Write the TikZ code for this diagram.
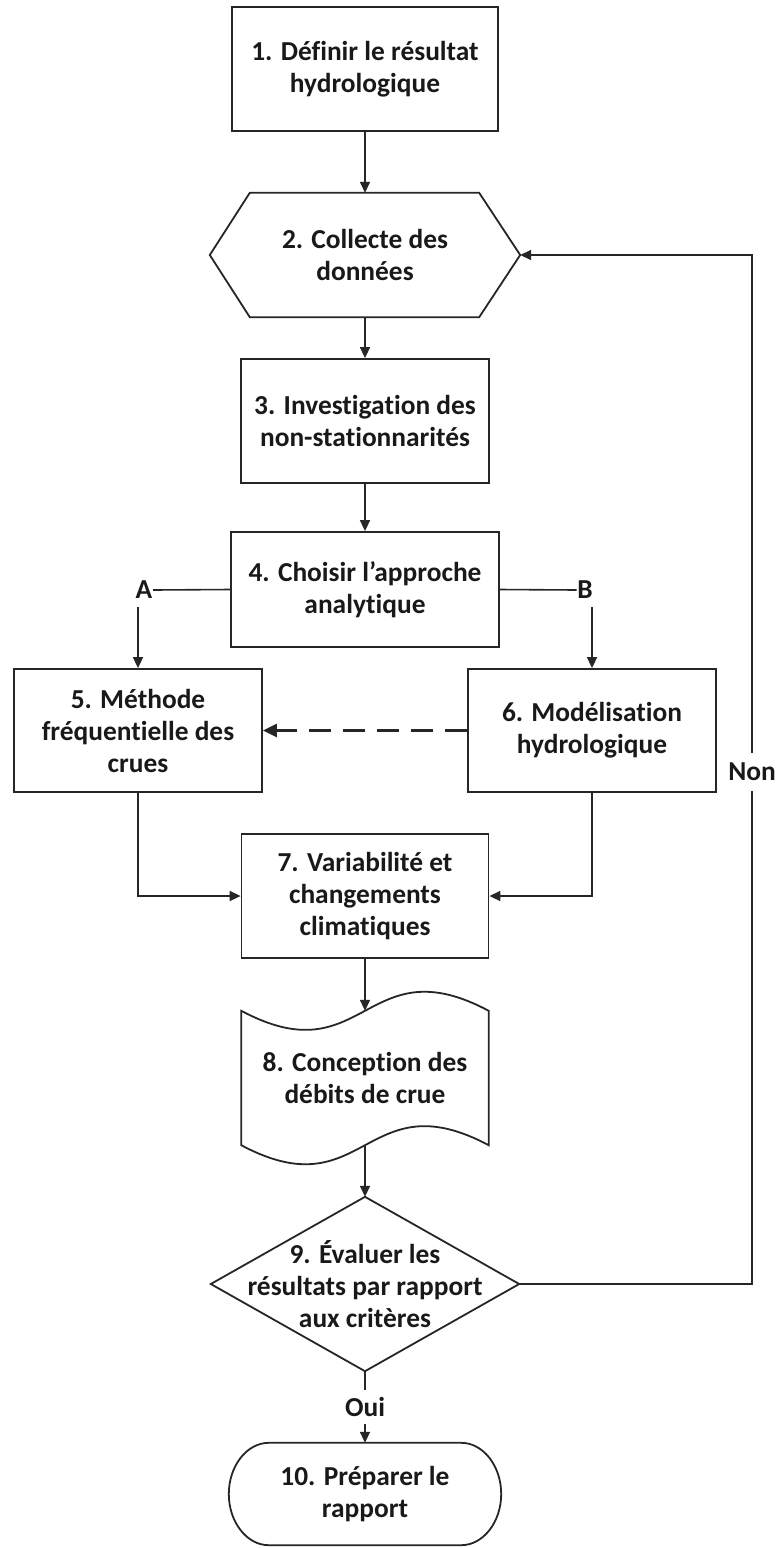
\documentclass[tikz,border=0pt]{standalone}
\usepackage{fontspec}
\setmainfont{Carlito}[Ligatures=NoCommon]
\usetikzlibrary{arrows.meta,calc}
\begin{document}
\begin{tikzpicture}[x=1pt,y=-1pt,
  every node/.style={font=\fontsize{27.4}{32}\selectfont\bfseries, align=center, text=black!90},
  box/.style={draw=black!85, line width=1.8pt, inner sep=0pt},
  shapebox/.style={inner sep=0pt},
  outline/.style={draw=black!85, line width=1.8pt, line join=miter},
  lbl/.style={inner xsep=0.5pt, inner ysep=8pt},
  ln/.style={line width=1.6pt, draw=black!85},
  arr/.style={ln, -{Triangle[length=11pt,width=10pt]}},
  dasharr/.style={line width=2.4pt, draw=black!85, dash pattern=on 22pt off 12pt,
                  -{Triangle[length=14pt,width=13pt]}},
]
\useasboundingbox (0,0) rectangle (780,1548);

% process steps
\node[box, minimum width=266, minimum height=124] (n1) at (365,69) {1. Définir le résultat\\hydrologique};

\node[shapebox, minimum width=310, minimum height=124] (n2) at (365,255) {2. Collecte des\\données};
\draw[outline] (n2.west) -- ($(n2.north west)+(40,0)$) -- ($(n2.north east)+(-41,0)$)
  -- (n2.east) -- ($(n2.south east)+(-41,0)$) -- ($(n2.south west)+(40,0)$) -- cycle;

\node[box, minimum width=248, minimum height=124] (n3) at (365,421) {3. Investigation des\\non-stationnarités};
\node[box, minimum width=268, minimum height=115] (n4) at (365,589.5) {4. Choisir l’approche\\analytique};
\node[box, minimum width=248, minimum height=123] (n5) at (138,730.5) {5. Méthode\\fréquentielle des\\crues};
\node[box, minimum width=248, minimum height=123] (n6) at (592,730.5) {6. Modélisation\\hydrologique};
\node[box, minimum width=247, minimum height=124] (n7) at (365,896) {7. Variabilité et\\changements\\climatiques};

% punched-tape shape
\node[shapebox, minimum width=247, minimum height=134] (n8) at (365,1078) {8. Conception des\\débits de crue};
\draw[outline] (n8.north west) .. controls ($(n8.north)+(0,66)$) and ($(n8.north)+(0,-66)$) .. (n8.north east)
  -- (n8.south east) .. controls ($(n8.south)+(0,-66)$) and ($(n8.south)+(0,66)$) .. (n8.south west) -- cycle;

% decision
\node[shapebox, minimum width=308, minimum height=174] (n9) at (365,1284) {9. Évaluer les\\résultats par rapport\\aux critères};
\draw[outline] (n9.north) -- (n9.east) -- (n9.south) -- (n9.west) -- cycle;

% terminator
\node[shapebox, minimum width=272, minimum height=102] (n10) at (365,1494) {10. Préparer le\\rapport};
\draw[outline] ($(n10.north west)+(40,0)$) -- ($(n10.north east)+(-40,0)$)
  .. controls ($(n10.north east)+(-18,0)$) and ($(n10.east)+(0,-28)$) .. (n10.east)
  .. controls ($(n10.east)+(0,28)$) and ($(n10.south east)+(-18,0)$) .. ($(n10.south east)+(-40,0)$)
  -- ($(n10.south west)+(40,0)$)
  .. controls ($(n10.south west)+(18,0)$) and ($(n10.west)+(0,28)$) .. (n10.west)
  .. controls ($(n10.west)+(0,-28)$) and ($(n10.north west)+(18,0)$) .. ($(n10.north west)+(40,0)$) -- cycle;

% branch labels
\node[lbl] (lA) at (144,590) {A};
\node[lbl] (lB) at (585,590) {B};
\node[lbl, inner ysep=7pt] (oui) at (365,1407) {Oui};
\node[lbl, inner ysep=10pt] (non) at (752,772) {Non};

% connectors
\draw[arr] (n1.south) -- (n2.north);
\draw[arr] (n2.south) -- (n3.north);
\draw[arr] (n3.south) -- (n4.north);
\draw[ln] (n4.west) -- (lA.east);
\draw[arr] (lA.south -| n5.north) -- (n5.north);
\draw[ln] (n4.east) -- (lB.west);
\draw[arr] (lB.south -| n6.north) -- (n6.north);
\draw[dasharr] (n6.west) -- (n5.east);
\draw[arr] (n5.south) |- (n7.west);
\draw[arr] (n6.south) |- (n7.east);
\draw[arr] (n7.south) -- (n8.north);
\draw[arr] (n8.south) -- (n9.north);
\draw[ln] (n9.south) -- (oui.north);
\draw[arr] (oui.south) -- (n10.north);
\draw[ln] (n9.east) -| (non.south);
\draw[arr] (non.north) |- (n2.east);
\end{tikzpicture}
\end{document}
